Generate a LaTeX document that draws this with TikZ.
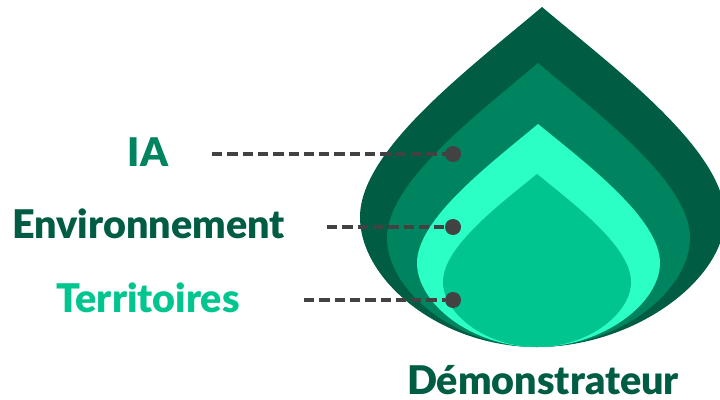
\documentclass[tikz,border=0pt]{standalone}
\usepackage{fontspec}
\setmainfont{Lato}[BoldFont={Lato Black}]
\definecolor{cdark}{HTML}{005C43}
\definecolor{cmid}{HTML}{00835F}
\definecolor{clight}{HTML}{2BFFC6}
\definecolor{cteal}{HTML}{00C58F}
\definecolor{cgrey}{HTML}{424242}
\tikzset{
  label text/.style={font=\bfseries\fontsize{39.5}{40}\selectfont, inner sep=0pt, anchor=base},
  dot/.style={circle, fill=cgrey, minimum size=16pt, inner sep=0pt},
  leader/.style={draw=cgrey, line width=4pt, dash pattern=on 10.3pt off 5pt}
}
\begin{document}
\begin{tikzpicture}[x=1pt,y=-1pt]
\useasboundingbox (0,0) rectangle (720,399);
\begin{scope}
\clip (0,0) rectangle (720,399);
\fill[cdark] (542,7) .. controls (470,68) and (360,150) .. (360,217) .. controls (360,280) and (440,347) .. (537,347) .. controls (634,347) and (725,280) .. (725,217) .. controls (725,150) and (614,68) .. (542,7) -- cycle;
\fill[cmid] (538,63) .. controls (478,114) and (387,182) .. (387,238) .. controls (387,290) and (455,347) .. (537,347) .. controls (620,347) and (690,290) .. (690,238) .. controls (690,182) and (598,114) .. (538,63) -- cycle;
\fill[clight] (538,124) .. controls (490,164) and (417,219) .. (417,263) .. controls (417,303) and (471,347) .. (537,347) .. controls (603,347) and (660,303) .. (660,263) .. controls (660,219) and (587,164) .. (538,124) -- cycle;
\fill[cteal] (537,174) .. controls (499,205) and (443,247) .. (443,282) .. controls (443,313) and (485,347) .. (537,347) .. controls (589,347) and (631,313) .. (631,282) .. controls (631,247) and (575,205) .. (537,174) -- cycle;
\end{scope}
\node[label text, text=cmid] (ia) at (148,166) {IA};
\node[label text, text=cdark] (env) at (148.5,238.5) {Environnement};
\node[label text, text=cteal] (terr) at (148,312) {Territoires};
\node[label text, text=cdark] (demo) at (543,394) {Démonstrateur};
\coordinate (s1) at (212,154);
\coordinate (s2) at (327,227);
\coordinate (s3) at (304,300);
\node[dot] (d1) at (453,154) {};
\node[dot] (d2) at (453,227) {};
\node[dot] (d3) at (453,300) {};
\draw[leader] (s1) -- (d1);
\draw[leader] (s2) -- (d2);
\draw[leader] (s3) -- (d3);
\end{tikzpicture}
\end{document}
